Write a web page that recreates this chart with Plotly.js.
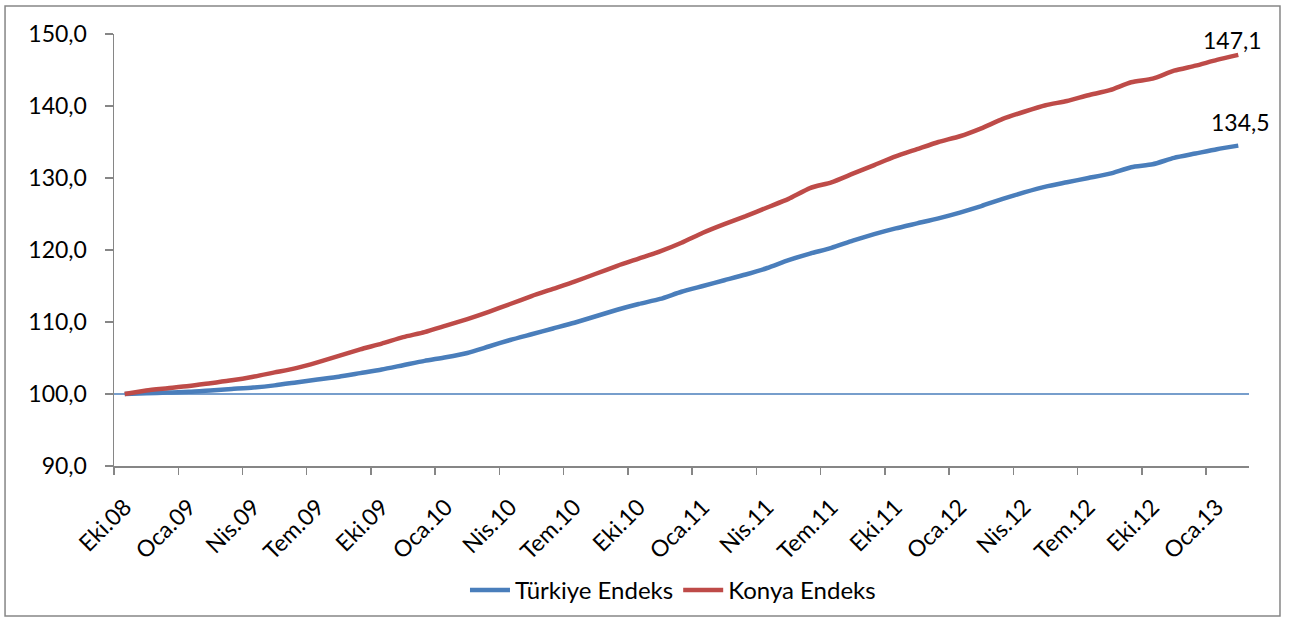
<!DOCTYPE html>
<html>
<head>
<meta charset="utf-8">
<script src="https://cdn.plot.ly/plotly-3.0.1.min.js"></script>
<style>
html,body{margin:0;padding:0;background:#fff;}
#chart{width:1290px;height:617px;}
</style>
</head>
<body>
<div id="chart"></div>
<script>
// Monthly categories, Oct 2008 - Feb 2013
var categories = [
 'Eki.08','Kas.08','Ara.08','Oca.09','Şub.09','Mar.09','Nis.09','May.09','Haz.09','Tem.09','Ağu.09','Eyl.09',
 'Eki.09','Kas.09','Ara.09','Oca.10','Şub.10','Mar.10','Nis.10','May.10','Haz.10','Tem.10','Ağu.10','Eyl.10',
 'Eki.10','Kas.10','Ara.10','Oca.11','Şub.11','Mar.11','Nis.11','May.11','Haz.11','Tem.11','Ağu.11','Eyl.11',
 'Eki.11','Kas.11','Ara.11','Oca.12','Şub.12','Mar.12','Nis.12','May.12','Haz.12','Tem.12','Ağu.12','Eyl.12',
 'Eki.12','Kas.12','Ara.12','Oca.13','Şub.13'
];
var turkiye = [
 100.0,100.1,100.2,100.3,100.5,100.7,100.9,101.2,101.6,102.0,102.4,102.9,
 103.4,104.0,104.6,105.1,105.7,106.6,107.5,108.3,109.1,109.9,110.8,111.7,
 112.5,113.2,114.2,115.0,115.8,116.6,117.5,118.6,119.5,120.3,121.3,122.2,
 123.0,123.7,124.4,125.2,126.1,127.1,128.0,128.8,129.4,130.0,130.6,131.5,
 131.9,132.8,133.4,134.0,134.5
];
var konya = [
 100.0,100.5,100.8,101.1,101.5,101.9,102.4,103.0,103.6,104.4,105.3,106.2,
 107.0,107.9,108.6,109.5,110.4,111.4,112.5,113.6,114.6,115.6,116.7,117.8,
 118.8,119.8,121.0,122.4,123.6,124.7,125.9,127.1,128.6,129.4,130.6,131.8,
 133.0,134.0,135.0,135.8,136.9,138.2,139.2,140.1,140.7,141.5,142.2,143.3,
 143.8,144.9,145.6,146.4,147.1
];
var seriesNames = ['Türkiye Endeks','Konya Endeks'];
var baseValue = 100;

var FONT = 'Lato, "Liberation Sans", sans-serif';
var BLUE = '#4A7EBB', RED = '#BE4B48', AXIS = '#868686';

function fmt(v){ return v.toFixed(1).replace('.', ','); }

var traces = [
 {x: categories, y: turkiye, name: seriesNames[0], type: 'scatter', mode: 'lines',
  line: {color: BLUE, width: 4.5, shape: 'spline', smoothing: 0.6}},
 {x: categories, y: konya, name: seriesNames[1], type: 'scatter', mode: 'lines',
  line: {color: RED, width: 4.5, shape: 'spline', smoothing: 0.6}}
];

var last = categories.length - 1;

var layout = {
 width: 1290, height: 617,
 margin: {l: 114, r: 41, t: 34, b: 151, autoexpand: false},
 paper_bgcolor: '#fff', plot_bgcolor: '#fff',
 separators: ',.',
 font: {family: FONT, size: 23, color: '#000'},
 showlegend: true,
 legend: {orientation: 'h', x: 0.4925, xanchor: 'center', y: -0.288, yanchor: 'middle',
  font: {family: FONT, size: 24, color: '#000'}, itemwidth: 40, tracegroupgap: 0},
 xaxis: {type: 'category', range: [-0.5, last + 0.5], tickmode: 'linear', tick0: 0, dtick: 3,
  tickson: 'boundaries', ticks: 'outside', ticklen: 7, tickwidth: 1.5, tickcolor: AXIS,
  showline: true, linecolor: AXIS, linewidth: 1.5, showgrid: false, zeroline: false,
  tickangle: -45, ticklabelstandoff: 17, tickfont: {family: FONT, size: 23, color: '#000'}, fixedrange: true},
 yaxis: {range: [90, 150], dtick: 10, tick0: 90, tickformat: '.1f', ticks: 'outside', ticklen: 8,
  tickwidth: 1.5, tickcolor: AXIS, showline: true, linecolor: AXIS, linewidth: 1.5,
  ticklabelstandoff: 13,
  showgrid: false, zeroline: false, tickfont: {family: FONT, size: 23, color: '#000'}, fixedrange: true},
 shapes: [
  {type: 'line', xref: 'paper', x0: 0, x1: 1, yref: 'y', y0: baseValue, y1: baseValue,
   line: {color: BLUE, width: 1.5}, layer: 'below'},
  {type: 'rect', xref: 'paper', yref: 'paper', x0: -0.0960, x1: 1.0273, y0: -0.347, y1: 1.0648,
   line: {color: AXIS, width: 1.5}, fillcolor: 'rgba(0,0,0,0)'}
 ],
 annotations: [
  {x: categories[last], y: konya[last], xref: 'x', yref: 'y', text: fmt(konya[last]), showarrow: false,
   xshift: -6, yshift: 15, font: {family: FONT, size: 23, color: '#000'}},
  {x: categories[last], y: turkiye[last], xref: 'x', yref: 'y', text: fmt(turkiye[last]), showarrow: false,
   xshift: 2, yshift: 24, font: {family: FONT, size: 23, color: '#000'}}
 ]
};

Plotly.newPlot('chart', traces, layout, {displayModeBar: false, staticPlot: true});
</script>
</body>
</html>
